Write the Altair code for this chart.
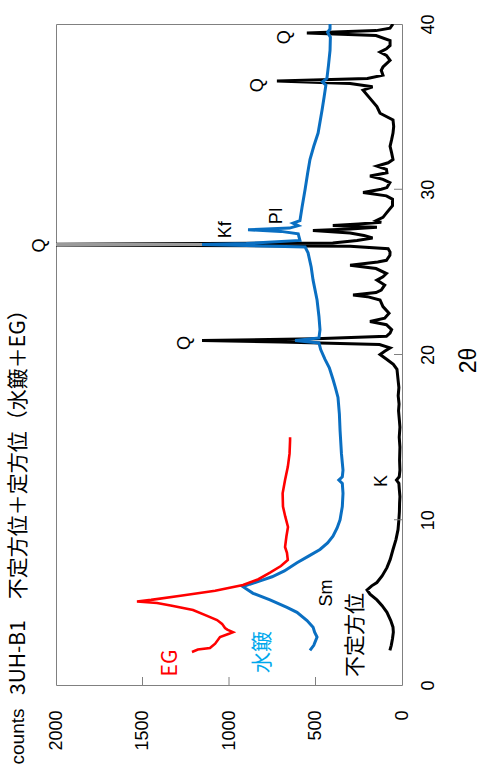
import altair as alt
import pandas as pd

# ---------------- data ----------------
COUNT_TICKS = [0, 500, 1000, 1500, 2000]
THETA_TICKS = [0, 10, 20, 30, 40]

BLACK_THETA = [2.1, 2.4, 2.8, 3.2, 3.5, 3.9, 4.4, 4.8, 5.15, 5.5, 5.75, 6.0, 6.2, 6.6, 7.1, 7.6, 8.2, 8.8,
               9.4, 10.0, 10.5, 11.0, 11.4, 11.9, 12.2, 12.4, 12.6, 13.0, 13.6, 14.4, 15.0, 15.6, 16.0, 16.6,
               17.0, 17.5, 18.0, 18.5, 19.1, 19.4, 19.7, 20.0, 20.2, 20.4, 20.6, 20.75, 20.85, 20.95, 21.1,
               21.3, 21.5, 21.8, 22.0, 22.2, 22.5, 22.9, 23.3, 23.5, 23.6, 23.75, 23.9, 24.2, 24.5, 24.7,
               24.9, 25.2, 25.4, 25.6, 25.7, 26.0, 26.2, 26.4, 26.55, 26.65, 26.75, 26.9, 27.05, 27.2, 27.35,
               27.5, 27.6, 27.7, 27.8, 27.9, 28.0, 28.1, 28.3, 28.6, 29.0, 29.4, 29.6, 29.8, 30.0, 30.1,
               30.4, 30.6, 30.8, 31.0, 31.2, 31.4, 31.6, 31.8, 32.2, 32.6, 33.0, 33.4, 33.8, 34.2, 34.6,
               35.0, 35.5, 36.0, 36.2, 36.4, 36.55, 36.7, 36.9, 37.2, 37.4, 37.8, 38.1, 38.3, 38.5, 38.7,
               39.0, 39.3, 39.45, 39.6, 39.75, 40.0]
BLACK_COUNTS = [70, 62, 55, 50, 52, 65, 87, 115, 145, 185, 202, 175, 145, 115, 87, 68, 52, 35,
                23, 18, 15, 14, 12, 16, 18, 32, 16, 12, 14, 12, 16, 12, 15, 20,
                17, 22, 18, 23, 29, 50, 87, 127, 100, 69, 130, 700, 1156, 500, 90,
                69, 60, 90, 185, 100, 75, 110, 127, 200, 283, 150, 120, 100, 145, 110,
                90, 150, 300, 140, 90, 70, 69, 80, 300, 2500, 400, 260, 170, 220, 300,
                515, 300, 145, 400, 250, 120, 150, 110, 87, 55, 55, 90, 225, 120, 87,
                70, 110, 185, 87, 90, 145, 80, 52, 60, 69, 60, 52, 48, 52, 127,
                145, 185, 225, 170, 300, 723, 200, 110, 120, 110, 69, 90, 127, 90, 69,
                69, 150, 550, 150, 69, 52]

BLUE_THETA = [2.1, 2.4, 2.9, 3.2, 3.5, 3.9, 4.4, 4.7, 5.15, 5.55, 5.95, 6.1, 6.3, 6.55, 6.9, 7.4, 7.8,
              8.2, 8.6, 9.0, 9.5, 10.0, 10.8, 11.6, 12.2, 12.4, 12.6, 13.0, 14.0, 15.4, 16.4, 17.4,
              18.0, 18.5, 19.2, 19.7, 20.3, 20.7, 20.85, 21.0, 21.5, 22.3, 23.3, 24.5, 25.3, 26.15,
              26.5, 26.6, 26.65, 26.72, 26.9, 27.3, 27.45, 27.55, 27.65, 27.8, 27.95, 28.1, 28.9,
              30.0, 31.0, 31.8, 32.6, 33.4, 34.8, 35.6, 36.3, 36.5, 36.7, 37.5, 38.4, 39.2, 39.5,
              39.7, 40.0]
BLUE_COUNTS = [532, 510, 491, 505, 514, 549, 607, 665, 763, 861, 919, 880, 820, 751, 680, 607, 540,
               474, 430, 399, 375, 358, 345, 341, 345, 365, 345, 341, 350, 358, 362, 370,
               385, 399, 420, 445, 470, 480, 618, 480, 474, 480, 491, 514, 525, 543,
               560, 900, 1156, 900, 590, 600, 700, 890, 650, 600, 630, 590, 578,
               560, 545, 532, 510, 485, 462, 450, 440, 460, 434, 425, 416, 414, 430,
               416, 416]

RED_THETA = [2.0, 2.15, 2.24, 2.5, 2.9, 3.1, 3.2, 3.35, 3.45, 3.7, 3.93, 4.2, 4.54, 4.8, 4.96, 5.05,
             5.15, 5.4, 5.7, 6.05, 6.4, 6.8, 7.2, 7.57, 8.0, 8.35, 9.0, 9.56, 10.2, 10.8, 11.6, 12.4,
             13.2, 14.0, 14.8, 15.0]
RED_COUNTS = [1214, 1180, 1110, 1080, 1052, 1000, 977, 1010, 1023, 1040, 1069, 1130, 1208, 1330, 1416,
              1532, 1450, 1280, 1080, 919, 830, 763, 700, 660, 665, 676, 668, 659, 675, 688, 690, 676,
              660, 650, 647, 647]

# off-scale part of the strongest quartz peak (shown grey)
CLIP_THETA = [26.65]
CLIP_FROM = [1156]
CLIP_TO = [2000]

PEAK_TEXT = ["Q", "Q", "Kf", "PI", "Q", "Q", "K", "Sm"]
PEAK_COUNTS = [1254, 2095, 1017, 722, 832, 676, 116, 433]
PEAK_THETA = [20.7, 26.6, 27.55, 28.4, 36.3, 39.2, 12.35, 5.57]

SERIES_TEXT = ["不定方位", "水簸", "EG"]
SERIES_COUNTS = [266, 803, 1335]
SERIES_THETA = [3.03, 2.0, 1.33]
SERIES_COLOR = ["#000000", "#00a8ec", "#ff0000"]

TITLE = "3UH-B1　不定方位＋定方位（水簸＋EG）"

# ---------------- chart ----------------
W, H = 346, 661
NUM_FONT = "Liberation Sans"
CJK_FONT = "Noto Sans CJK JP"

x_scale = alt.Scale(domain=[0, 2000], reverse=True, nice=False, zero=False)
y_scale = alt.Scale(domain=[0, 40], nice=False, zero=False)

x_axis = alt.Axis(values=COUNT_TICKS, format="d", labelAngle=270, labelAlign="right",
                  labelBaseline="middle", labelPadding=25, ticks=False, tickSize=0, domain=False,
                  grid=False, labelFlush=False, labelOverlap=False, labelFont=NUM_FONT,
                  labelFontSize=18, labelColor="black", title="counts", titleAngle=270,
                  titleX=-39, titleY=51, titleAlign="center", titleBaseline="middle",
                  titleFont=NUM_FONT, titleFontSize=19, titleFontWeight="normal", titleColor="black")
y_axis = alt.Axis(orient="right", values=THETA_TICKS, format="d", labelAngle=270,
                  labelAlign="center", labelBaseline="middle", labelPadding=26, ticks=False,
                  tickSize=0, domain=False, grid=False, labelFlush=False, labelOverlap=False,
                  labelFont=NUM_FONT, labelFontSize=18, labelColor="black", title="2θ",
                  titleAngle=270, titleX=66, titleY=336, titleAlign="center",
                  titleBaseline="middle", titleFont=NUM_FONT, titleFontSize=23,
                  titleFontWeight="normal", titleColor="black")

X = lambda field: alt.X(field, scale=x_scale, axis=x_axis)
Y = lambda field: alt.Y(field, scale=y_scale, axis=y_axis)


def trace(theta, counts, color, width):
    df = pd.DataFrame({"theta": theta, "counts": counts})
    return alt.Chart(df).mark_line(color=color, strokeWidth=width, clip=True).encode(
        x=X("counts:Q"), y=Y("theta:Q"), order="theta:Q",
    )


black = trace(BLACK_THETA, BLACK_COUNTS, "#000000", 3)
blue = trace(BLUE_THETA, BLUE_COUNTS, "#0a6fc2", 3)
red = trace(RED_THETA, RED_COUNTS, "#ff0000", 2.6)

clip_df = pd.DataFrame({"theta": CLIP_THETA, "c1": CLIP_FROM, "c2": CLIP_TO})
clip_bar = alt.Chart(clip_df).mark_rule(color="#9a9a9a", strokeWidth=3, clip=True).encode(
    y=Y("theta:Q"), x=X("c1:Q"), x2="c2:Q",
)

xt = alt.Chart(pd.DataFrame({"counts": COUNT_TICKS[1:-1]})).mark_rule(color="#808080").encode(
    x=X("counts:Q"), y=alt.value(H), y2=alt.value(H - 8))
yt = alt.Chart(pd.DataFrame({"theta": THETA_TICKS[1:-1]})).mark_rule(color="#808080").encode(
    y=Y("theta:Q"), x=alt.value(W), x2=alt.value(W - 8))

peak_df = pd.DataFrame({"t": PEAK_TEXT, "counts": PEAK_COUNTS, "theta": PEAK_THETA})
peaks = alt.Chart(peak_df).mark_text(angle=270, align="center", baseline="middle",
                                     font=NUM_FONT, fontSize=18, color="black").encode(
    x=X("counts:Q"), y=Y("theta:Q"), text="t:N",
)

ser_df = pd.DataFrame({"t": SERIES_TEXT, "counts": SERIES_COUNTS, "theta": SERIES_THETA,
                       "c": SERIES_COLOR})
series_labels = alt.Chart(ser_df).mark_text(angle=270, align="center", baseline="middle",
                                            font=CJK_FONT, fontSize=21).encode(
    x=X("counts:Q"), y=Y("theta:Q"), text="t:N",
    color=alt.Color("c:N", scale=None),
)

title = alt.Chart(pd.DataFrame({"t": [TITLE]})).mark_text(
    angle=270, align="left", baseline="middle", font=CJK_FONT, fontSize=21, color="black"
).encode(x=alt.value(-37), y=alt.value(671), text="t:N")

chart = alt.layer(black, clip_bar, blue, red, xt, yt, peaks, series_labels, title).properties(
    width=W, height=H,
    padding={"left": 56, "top": 24, "right": 97, "bottom": 93},
    autosize=alt.AutoSizeParams(type="none"),
    background="white",
).configure_view(stroke="#808080", strokeWidth=1)

chart.save("out.html", embed_options={"renderer": "svg", "actions": False})
